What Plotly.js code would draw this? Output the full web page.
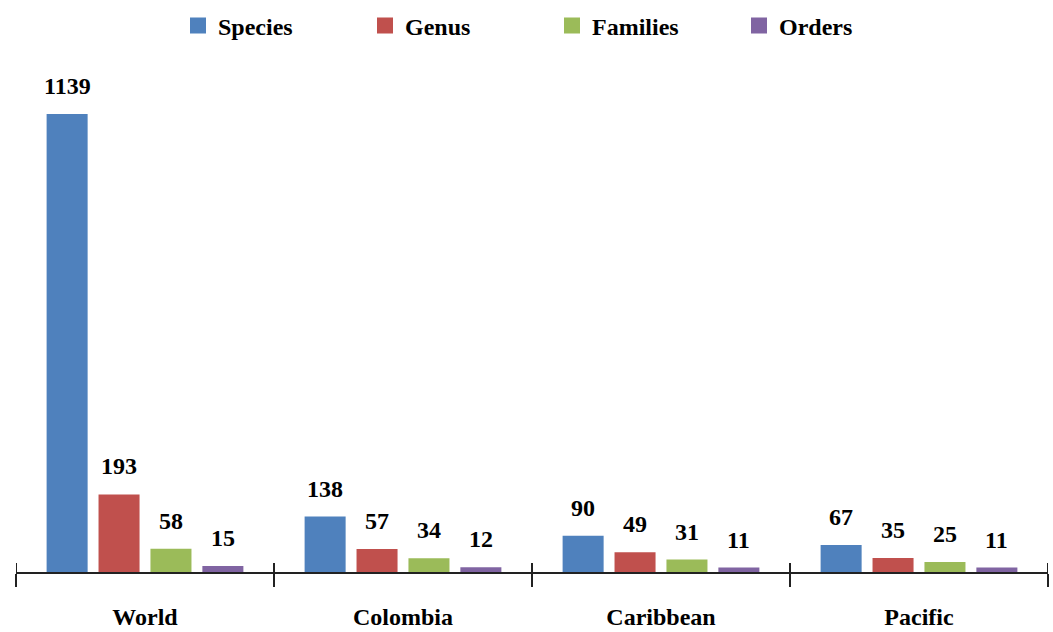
<!DOCTYPE html>
<html><head><meta charset="utf-8">
<script src="https://cdn.plot.ly/plotly-3.0.1.min.js"></script>
<style>html,body{margin:0;padding:0;background:#fff}#chart{width:1053px;height:632px}</style>
</head><body><div id="chart"></div>
<script>
const categories = ["World", "Colombia", "Caribbean", "Pacific"];
const species = [1139, 138, 90, 67];
const genus = [193, 57, 49, 35];
const families = [58, 34, 31, 25];
const orders = [15, 12, 11, 11];
const seriesNames = ["Species", "Genus", "Families", "Orders"];
const seriesColors = ["#4F81BD", "#C0504D", "#9BBB59", "#8064A2"];
const seriesValues = [species, genus, families, orders];

const FONT = "Liberation Serif, Times New Roman, serif";
const BARGAP = 0.195, GROUPGAP = 0.21;

const traces = seriesValues.map((vals, i) => ({
  type: "bar", name: seriesNames[i], x: categories, y: vals,
  marker: {color: seriesColors[i]}, hoverinfo: "skip", showlegend: false
}));
// legend entries (square markers)
seriesNames.forEach((n, i) => {
  traces.push({type: "scatter", mode: "markers", name: "<b>" + n + "</b>", x: [null], y: [null],
    marker: {symbol: "square", size: 16, color: seriesColors[i]}, hoverinfo: "skip"});
});

const slot = (1 - BARGAP) / seriesValues.length;
const annotations = [];
seriesValues.forEach((vals, s) => {
  vals.forEach((v, c) => {
    annotations.push({
      x: c + (s - (seriesValues.length - 1) / 2) * slot, xref: "x",
      y: v, yref: "y", text: "<b>" + v + "</b>", showarrow: false,
      yanchor: "middle", yshift: 28, font: {family: FONT, size: 24, color: "#000"}
    });
  });
});

// crossing tick marks at category boundaries
const shapes = [];
for (let c = 0; c <= categories.length; c++) {
  shapes.push({type: "line", xref: "x", x0: c - 0.5, x1: c - 0.5, yref: "y", ysizemode: "pixel", yanchor: 0,
    y0: -13, y1: 9, line: {color: "#222", width: 2}});
}

const layout = {
  width: 1053, height: 632,
  margin: {l: 16, r: 5, t: 60, b: 60},
  paper_bgcolor: "#fff", plot_bgcolor: "#fff",
  barmode: "group", bargap: BARGAP, bargroupgap: GROUPGAP,
  showlegend: true,
  legend: {orientation: "h", xref: "container", x: 178/1053, xanchor: "left", yref: "container", y: 1 - 26/632, yanchor: "middle",
           font: {family: FONT, size: 24, color: "#000"}, entrywidth: 142, entrywidthmode: "pixels"},
  xaxis: {type: "category", categoryorder: "array", categoryarray: categories, range: [-0.5, 3.5],
          showline: true, linecolor: "#222", linewidth: 2, ticks: "outside", ticklen: 13, tickwidth: 2, tickcolor: "#222",
          tickson: "boundaries", ticklabelstandoff: 22, showgrid: false, zeroline: false,
          tickfont: {family: FONT, size: 24, color: "#000"}, tickprefix: "<b>", ticksuffix: "</b>"},
  yaxis: {range: [0, 1273], visible: false, showgrid: false, zeroline: false},
  shapes: shapes,
  annotations: annotations
};
Plotly.newPlot("chart", traces, layout, {staticPlot: true});
</script></body></html>
